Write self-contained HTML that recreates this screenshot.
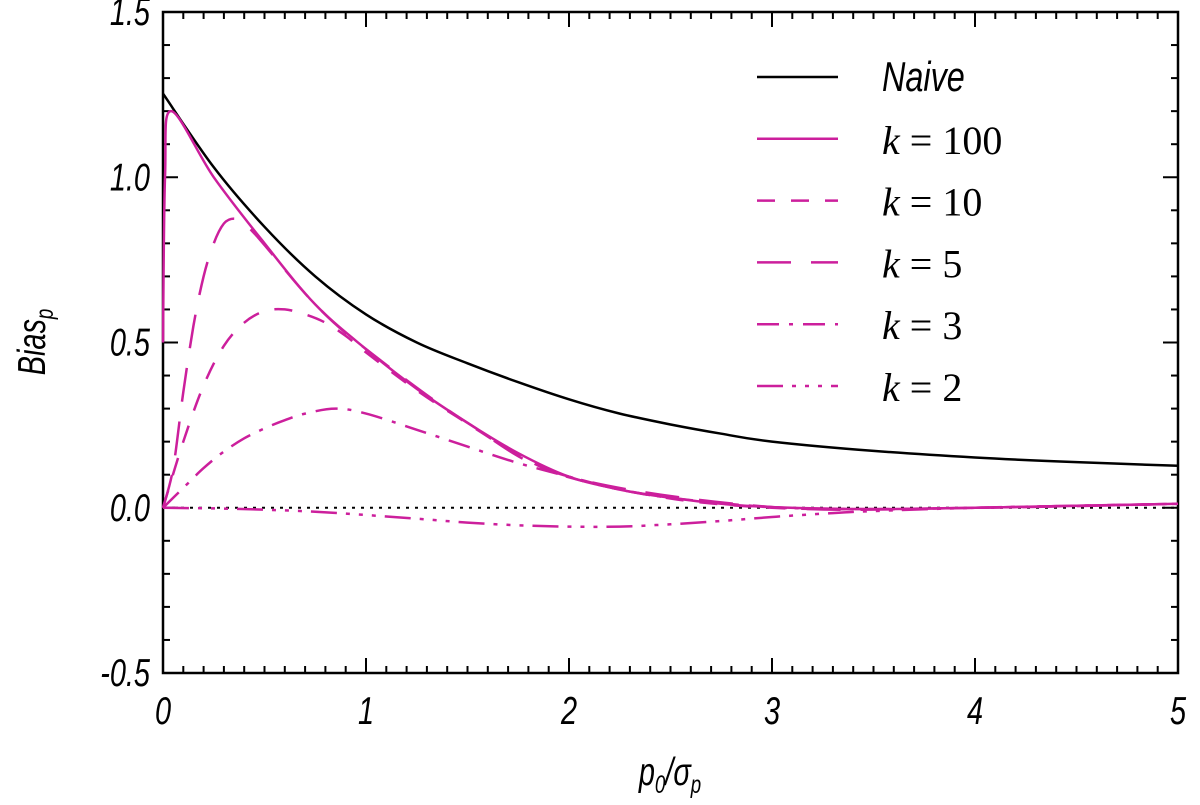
<!DOCTYPE html>
<html><head><meta charset="utf-8"><style>
body{margin:0;background:#fff}
svg{display:block}
</style></head><body>
<svg id="chart" width="1200" height="805" xmlns="http://www.w3.org/2000/svg">
<g id="axes"></g>
<g id="series"></g>
<g id="legend"></g>
</svg>
<script>
const xTicks=[0,1,2,3,4,5];
const xTickLabels=["0","1","2","3","4","5"];
const yTicks=[-0.5,0,0.5,1.0,1.5];
const yTickLabels=["-0.5","0.0","0.5","1.0","1.5"];
const naiveX=[0,0.25,0.5,0.75,1,1.25,1.5,1.75,2,2.25,2.5,2.75,3,3.5,4,4.5,5];
const naiveY=[1.253,1.03,0.85,0.70,0.585,0.5,0.437,0.38,0.328,0.285,0.252,0.224,0.2,0.172,0.152,0.138,0.127];
const k100X=[0,0.01,0.04,0.25,0.5,0.75,1,1.25,1.5,1.75,2,2.25,2.5,2.75,3,3.5,4,4.5,5];
const k100Y=[0.5,1.0,1.2,1.0,0.8,0.615,0.48,0.36,0.257,0.165,0.094,0.055,0.03,0.012,0.002,-0.004,0.0,0.006,0.012];
const k10X=[0,0.1,0.2,0.3,0.4,0.5,0.6,0.7,0.8,0.9,1,1.25,1.5,1.75,2,2.5,3,3.5,4,4.5,5];
const k10Y=[0,0.2,0.37,0.49,0.56,0.595,0.6,0.585,0.56,0.52,0.47,0.355,0.255,0.16,0.092,0.028,0.0,-0.004,0.0,0.006,0.012];
const k5X=[0,0.05,0.1,0.15,0.2,0.25,0.3,0.35,0.4,0.45,0.5,0.75,1,1.5,2,3,4,5];
const k5Y=[0,0.12,0.35,0.55,0.7,0.8,0.86,0.875,0.86,0.83,0.795,0.615,0.48,0.257,0.094,0.002,0.0,0.012];
const k3X=[0,0.1,0.2,0.3,0.4,0.5,0.6,0.7,0.85,1,1.25,1.5,1.75,2,2.25,2.5,3,3.5,4,4.5,5];
const k3Y=[0,0.06,0.12,0.17,0.21,0.24,0.265,0.285,0.3,0.285,0.236,0.185,0.135,0.094,0.055,0.03,0.002,-0.004,0.0,0.006,0.012];
const k2X=[0,0.25,0.5,0.75,1,1.25,1.5,1.75,2,2.25,2.5,2.75,3,3.25,3.5,4,4.5,5];
const k2Y=[0,-0.002,-0.006,-0.012,-0.022,-0.033,-0.045,-0.053,-0.057,-0.057,-0.05,-0.04,-0.028,-0.018,-0.01,0.0,0.006,0.012];

const L=163,R=1178,T=12,B=673;
const xs=v=>L+(v-0)/(5-0)*(R-L);
const ys=v=>B-(v+0.5)/(2.0)*(B-T);
const NS="http://www.w3.org/2000/svg";
const MAG="#cc1f9c";
function mk(tag,attrs,parent){const e=document.createElementNS(NS,tag);for(const k in attrs)e.setAttribute(k,attrs[k]);parent.appendChild(e);return e;}
const axes=document.getElementById('axes'),series=document.getElementById('series'),legend=document.getElementById('legend');

let fr=mk('rect',{x:L,y:T,width:R-L,height:B-T,fill:'none',stroke:'#000','stroke-width':2.5},axes);


for(let i=0;i<=50;i++){const v=i*0.1;const x=xs(v);const len=(i%10===0)?15:7;
 let t1=mk('line',{x1:x,y1:B,x2:x,y2:B-len,stroke:'#000','stroke-width':2},axes);
 
 
 let t2=mk('line',{x1:x,y1:T,x2:x,y2:T+len,stroke:'#000','stroke-width':2},axes);
 
 }
for(let i=0;i<=20;i++){const v=-0.5+i*0.1;const y=ys(v);const len=(i%5===0)?15:7;
 let t1=mk('line',{x1:L,y1:y,x2:L+len,y2:y,stroke:'#000','stroke-width':2},axes);
 
 
 let t2=mk('line',{x1:R,y1:y,x2:R-len,y2:y,stroke:'#000','stroke-width':2},axes);
 
 }
xTicks.forEach((v,i)=>{let t=mk('text',{x:0,y:0,transform:`translate(${xs(v)},724) scale(0.85,1.15)`,'text-anchor':'middle','font-family':'Liberation Sans, sans-serif','font-style':'italic','font-size':34},axes);t.textContent=xTickLabels[i];
 
 });
yTicks.forEach((v,i)=>{let t=mk('text',{x:0,y:0,transform:`translate(150,${ys(v)+13}) scale(0.85,1.15)`,'text-anchor':'end','font-family':'Liberation Sans, sans-serif','font-style':'italic','font-size':34},axes);t.textContent=yTickLabels[i];
 
 });
let xt=mk('text',{x:0,y:0,transform:'translate(670,785) scale(0.85,1.15)','text-anchor':'middle','font-family':'Liberation Sans, sans-serif','font-style':'italic','font-size':34},axes);
xt.innerHTML='p<tspan font-size="22" dy="7">0</tspan><tspan dy="-7">/σ</tspan><tspan font-size="22" dy="7">p</tspan>';


let yt=mk('text',{x:0,y:0,transform:'translate(45,342) rotate(-90) scale(0.85,1.15)','text-anchor':'middle','font-family':'Liberation Sans, sans-serif','font-style':'italic','font-size':34},axes);
yt.innerHTML='Bias<tspan font-size="22" dy="7">p</tspan>';



let z=mk('line',{x1:L,y1:ys(0),x2:R,y2:ys(0),stroke:'#000','stroke-width':2,'stroke-dasharray':'3 6'},series);


function path(X,Y){
 const P=X.map((v,i)=>[xs(v),ys(Y[i])]);
 let d='M'+P[0][0].toFixed(1)+','+P[0][1].toFixed(1);
 for(let i=0;i<P.length-1;i++){
  const p0=P[Math.max(0,i-1)],p1=P[i],p2=P[i+1],p3=P[Math.min(P.length-1,i+2)];
  const t=1/6;
  const c1=[p1[0]+(p2[0]-p0[0])*t,p1[1]+(p2[1]-p0[1])*t];
  const c2=[p2[0]-(p3[0]-p1[0])*t,p2[1]-(p3[1]-p1[1])*t];
  d+=` C${c1[0].toFixed(1)},${c1[1].toFixed(1)} ${c2[0].toFixed(1)},${c2[1].toFixed(1)} ${p2[0].toFixed(1)},${p2[1].toFixed(1)}`;
 }
 return d;}
const defs=[
 ['naive-line',naiveX,naiveY,'#000','', 'Naive'],
 ['k100-line',k100X,k100Y,MAG,'','100'],
 ['k10-line',k10X,k10Y,MAG,'18 16','10'],
 ['k5-line',k5X,k5Y,MAG,'34 20','5'],
 ['k3-line',k3X,k3Y,MAG,'22 10 4 10','3'],
 ['k2-line',k2X,k2Y,MAG,'26 9 4 9 4 9 4 9','2']];
defs.forEach((d,i)=>{
 let p=mk('path',{d:path(d[1],d[2]),fill:'none',stroke:d[3],'stroke-width':2.5,'stroke-dasharray':d[4]||'none','stroke-linejoin':'round'},series);
 
 
 const ly=77+i*61.8;
 let ll=mk('line',{x1:757,y1:ly,x2:838,y2:ly,stroke:d[3],'stroke-width':2.5,'stroke-dasharray':d[4]||'none'},legend);
 
 
 let t;
 if(i===0){t=mk('text',{x:0,y:0,transform:`translate(882,${ly+14}) scale(0.9,1.15)`,'font-family':'Liberation Sans, sans-serif','font-style':'italic','font-size':36},legend);t.textContent='Naive';}
 else{t=mk('text',{x:882,y:ly+15,'font-family':'Liberation Serif, serif','font-size':40},legend);t.innerHTML='<tspan font-style="italic">k</tspan> = '+d[5];}
 
 
});
</script>
</body></html>
